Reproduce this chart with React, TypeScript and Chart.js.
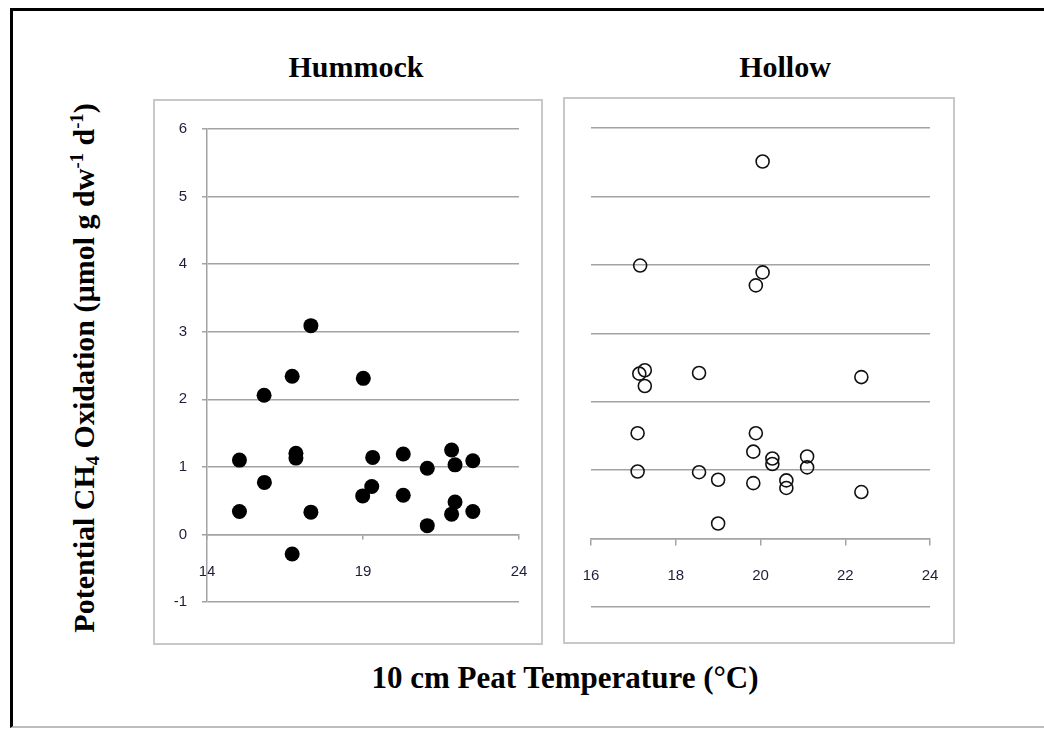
import React, { useEffect, useRef } from "react";
import { Chart, registerables } from "chart.js";

Chart.register(...registerables);

// Hummock panel data (10 cm peat temperature, °C ; potential CH4 oxidation)
const hummockTemp = [17.33, 16.73, 15.83, 19.01, 15.04, 15.04, 15.84, 16.73, 16.85, 16.85, 17.33, 18.99, 19.28, 19.31, 20.29, 20.29, 21.06, 21.06, 21.84, 21.95, 21.95, 21.84, 22.52, 22.52];
const hummockOxidation = [3.09, 2.34, 2.06, 2.31, 1.1, 0.34, 0.77, -0.29, 1.2, 1.13, 0.33, 0.57, 0.71, 1.14, 1.19, 0.58, 0.98, 0.13, 1.25, 1.03, 0.48, 0.3, 1.09, 0.34];

// Hollow panel data
const hollowTemp = [20.05, 17.16, 20.05, 19.89, 17.27, 17.14, 17.27, 18.55, 22.38, 17.1, 17.1, 18.55, 19.0, 19.0, 19.89, 19.83, 19.83, 20.28, 20.28, 20.61, 20.61, 21.1, 21.1, 22.38];
const hollowOxidation = [5.51, 3.99, 3.89, 3.7, 2.46, 2.41, 2.23, 2.42, 2.36, 1.54, 0.98, 0.97, 0.86, 0.22, 1.54, 1.27, 0.81, 1.17, 1.09, 0.85, 0.74, 1.2, 1.04, 0.68];

// Axis ticks
const yTicks = [-1, 0, 1, 2, 3, 4, 5, 6];
const hummockXTicks = [14, 19, 24];
const hollowXTicks = [16, 18, 20, 22, 24];

const GRID = "#a3a3a3";
const TICKFONT = { family: "'Liberation Sans', Arial, sans-serif", size: 15 };
const TICKCOLOR = "#1e1e3c";

function toPoints(xs: number[], ys: number[]) {
  return xs.map((x, i) => ({ x, y: ys[i] }));
}

function makeTicks(values: number[]) {
  return (axis: any) => {
    axis.ticks = values.map((v) => ({ value: v }));
  };
}

function noSidePadding(s: any) {
  s.paddingLeft = 0;
  s.paddingRight = 0;
}

function Panel(props: {
  left: number;
  top: number;
  width: number;
  height: number;
  build: (canvas: HTMLCanvasElement) => Chart;
}) {
  const ref = useRef<HTMLCanvasElement | null>(null);
  useEffect(() => {
    if (!ref.current) return;
    const chart = props.build(ref.current);
    return () => chart.destroy();
  }, []);
  return (
    <div
      style={{
        position: "absolute",
        left: props.left,
        top: props.top,
        width: props.width,
        height: props.height,
      }}
    >
      <canvas ref={ref} width={props.width} height={props.height} style={{ width: props.width, height: props.height, display: "block" }} />
    </div>
  );
}

function buildHummock(canvas: HTMLCanvasElement) {
  return new Chart(canvas, {
    type: "scatter",
    data: {
      datasets: [
        {
          data: toPoints(hummockTemp, hummockOxidation),
          pointRadius: 7.5,
          pointBackgroundColor: "#000",
          pointBorderColor: "#000",
          pointBorderWidth: 0,
        },
      ],
    },
    options: {
      animation: false,
      responsive: false,
      maintainAspectRatio: false,
      layout: { padding: { left: 0, top: 28, right: 22, bottom: 37 } },
      plugins: { legend: { display: false }, tooltip: { enabled: false }, title: { display: false } },
      scales: {
        x: {
          type: "linear",
          min: 14,
          max: 24,
          position: { y: 0 } as any,
          afterBuildTicks: makeTicks(hummockXTicks),
          afterFit: noSidePadding,
          ticks: { font: TICKFONT, color: TICKCOLOR, padding: 24, maxRotation: 0 },
          grid: { display: true, drawOnChartArea: false, drawTicks: true, tickLength: 4, color: GRID, lineWidth: 1.5 },
          border: { display: true, color: GRID, width: 1.5 },
        },
        y: {
          type: "linear",
          min: -1,
          max: 6,
          afterBuildTicks: makeTicks(yTicks),
          afterFit: (s: any) => {
            s.width = 52;
          },
          ticks: { font: TICKFONT, color: TICKCOLOR, padding: 15 },
          grid: { color: GRID, lineWidth: 1.5, drawTicks: true, tickLength: 5 },
          border: { display: true, color: GRID, width: 1.5 },
        },
      },
    },
  });
}

function buildHollow(canvas: HTMLCanvasElement) {
  return new Chart(canvas, {
    type: "scatter",
    data: {
      datasets: [
        {
          data: toPoints(hollowTemp, hollowOxidation),
          pointRadius: 6.5,
          pointBackgroundColor: "rgba(0,0,0,0)",
          pointBorderColor: "#111",
          pointBorderWidth: 1.6,
        },
      ],
    },
    options: {
      animation: false,
      responsive: false,
      maintainAspectRatio: false,
      layout: { padding: { left: 25, top: 28, right: 22, bottom: 33 } },
      plugins: { legend: { display: false }, tooltip: { enabled: false }, title: { display: false } },
      scales: {
        x: {
          type: "linear",
          min: 16,
          max: 24,
          position: { y: 0 } as any,
          afterBuildTicks: makeTicks(hollowXTicks),
          afterFit: noSidePadding,
          ticks: { font: TICKFONT, color: TICKCOLOR, padding: 22, maxRotation: 0 },
          grid: { display: true, drawOnChartArea: false, drawTicks: true, tickLength: 6, color: GRID, lineWidth: 1.5 },
          border: { display: true, color: GRID, width: 1.5 },
        },
        y: {
          type: "linear",
          min: -1,
          max: 6,
          afterBuildTicks: makeTicks(yTicks),
          afterFit: (s: any) => {
            s.width = 0;
          },
          ticks: { display: false },
          grid: { color: GRID, lineWidth: 1.5, drawTicks: false },
          border: { display: false },
        },
      },
    },
  });
}

const serif = "'Liberation Serif', 'Times New Roman', serif";

export default function App() {
  return (
    <div
      style={{
        position: "absolute",
        left: 0,
        top: 0,
        width: 1044,
        height: 729,
        background: "#fff",
        overflow: "hidden",
        fontFamily: serif,
      }}
    >
      {/* outer frame */}
      <div
        style={{
          position: "absolute",
          left: 10,
          top: 8,
          width: 1100,
          height: 720,
          borderTop: "3px solid #000",
          borderLeft: "3px solid #000",
          borderBottom: "2px solid #bdbdbd",
          boxSizing: "border-box",
        }}
      />
      {/* panel boxes */}
      <div style={{ position: "absolute", left: 153, top: 99, width: 390, height: 546, border: "2px solid #c8c8c8", boxSizing: "border-box" }} />
      <div style={{ position: "absolute", left: 563, top: 97, width: 392, height: 547, border: "2px solid #c8c8c8", boxSizing: "border-box" }} />

      {/* panel titles */}
      <div style={{ position: "absolute", left: 206, top: 50, width: 300, textAlign: "center", fontSize: 30, lineHeight: "34px", fontWeight: "bold" }}>Hummock</div>
      <div style={{ position: "absolute", left: 635, top: 50, width: 300, textAlign: "center", fontSize: 30, lineHeight: "34px", fontWeight: "bold" }}>Hollow</div>

      {/* x-axis title */}
      <div style={{ position: "absolute", left: 265, top: 660, width: 600, textAlign: "center", fontSize: 31, lineHeight: "36px", fontWeight: "bold" }}>
        10 cm Peat Temperature (°C)
      </div>

      {/* y-axis title */}
      <div
        style={{
          position: "absolute",
          left: 84 - 320,
          top: 368 - 20,
          width: 640,
          height: 40,
          textAlign: "center",
          fontSize: 30,
          lineHeight: "40px",
          fontWeight: "bold",
          transform: "rotate(-90deg)",
          whiteSpace: "nowrap",
        }}
      >
        Potential CH
        <span style={{ fontSize: "0.62em", verticalAlign: "-0.25em", lineHeight: 0 }}>4</span> Oxidation (µmol g dw
        <span style={{ fontSize: "0.62em", verticalAlign: "0.6em", lineHeight: 0 }}>-1</span> d
        <span style={{ fontSize: "0.62em", verticalAlign: "0.6em", lineHeight: 0 }}>-1</span>)
      </div>

      <Panel left={155} top={101} width={386} height={538} build={buildHummock} />
      <Panel left={566} top={100} width={386} height={540} build={buildHollow} />
    </div>
  );
}
